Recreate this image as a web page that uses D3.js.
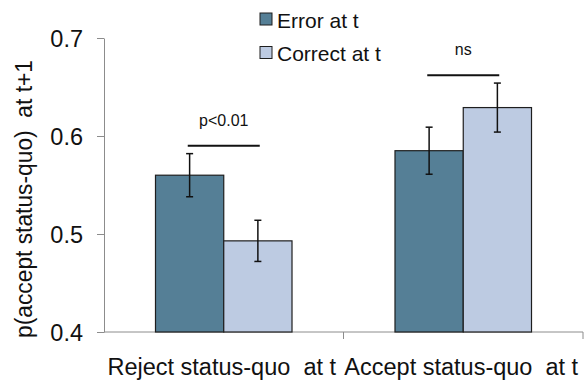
<!DOCTYPE html>
<meta charset="utf-8">
<script src="https://cdn.jsdelivr.net/npm/d3@7"></script>
<style>
body { margin: 0; background: #fff; }
text { font-family: "Liberation Sans", Arial, sans-serif; fill: #111; white-space: pre; }
.axisGray line, .axisGray path { stroke: #8c8c8c; }
</style>
<svg width="584" height="382"></svg>
<script>

// data
var categories = ["Reject status-quo  at t", "Accept status-quo  at t"];
var series = ["Error at t", "Correct at t"];
var errorMeans = [0.560, 0.585];
var errorSE = [0.022, 0.024];
var correctMeans = [0.493, 0.629];
var correctSE = [0.021, 0.025];
var yTicks = [0.4, 0.5, 0.6, 0.7];
var sigLabels = ["p<0.01", "ns"];
var sigLevels = [0.590, 0.662];

var svg = d3.select("svg");
var colors = ["#557f96", "#bdcbe2"];

var x = d3.scaleBand()
    .domain(categories)
    .range([104, 583])
    .paddingInner(0.43)
    .paddingOuter(0.215);

var sub = d3.scaleBand()
    .domain(series)
    .range([0, x.bandwidth()]);

var y = d3.scaleLinear()
    .domain([0.4, 0.7])
    .range([332, 38]);

//y axis
svg.append("g")
    .attr("class", "axisGray")
    .attr("transform", "translate(104,0)")
    .call(d3.axisLeft(y)
      .tickValues(yTicks)
      .tickSize(7)
      .tickSizeOuter(0)
      .tickPadding(14)
      .tickFormat(d3.format(".1f")))
    .call(function(g) {
      g.selectAll("text").style("font-size", "23.5px").attr("dy", "0.36em").style("fill", "#111");
    });

// x axis line + ticks between categories
svg.append("line")
    .attr("x1", x.range()[0]).attr("x2", x.range()[1])
    .attr("y1", y(0.4)).attr("y2", y(0.4))
    .style("stroke", "#8c8c8c");

svg.selectAll(".xtick")
    .data(categories)
    .enter().append("line")
    .attr("x1", function(d, i) { return x.range()[0] + x.step() * (i + 1); })
    .attr("x2", function(d, i) { return x.range()[0] + x.step() * (i + 1); })
    .attr("y1", y(0.4)).attr("y2", y(0.4) + 7)
    .style("stroke", "#8c8c8c");

svg.selectAll(".xlabel")
    .data(categories)
    .enter().append("text")
    .attr("x", function(d) { return x(d) + x.bandwidth() / 2 - 2; })
    .attr("y", 375)
    .attr("text-anchor", "middle")
    .style("font-size", "23.5px")
    .text(function(d) { return d; });

// y label
svg.append("text")
    .attr("transform", "translate(32," + 199 + ") rotate(-90)")
    .attr("text-anchor", "middle")
    .attr("textLength", 278)
    .attr("lengthAdjust", "spacingAndGlyphs")
    .style("font-size", "23px")
    .text("p(accept status-quo)  at t+1");

// bars
var rows = [];
categories.forEach(function(c, i) {
  rows.push({cat: c, s: series[0], v: errorMeans[i], se: errorSE[i], k: 0});
  rows.push({cat: c, s: series[1], v: correctMeans[i], se: correctSE[i], k: 1});
});

svg.selectAll(".bar")
    .data(rows)
    .enter().append("rect")
    .attr("x", function(d) { return x(d.cat) + sub(d.s); })
    .attr("y", function(d) { return y(d.v); })
    .attr("width", sub.bandwidth())
    .attr("height", function(d) { return y(0.4) - y(d.v); })
    .style("fill", function(d) { return colors[d.k]; })
    .style("stroke", "#1e1e1e")
    .style("stroke-width", 1.2);

// error bars
var eb = svg.selectAll(".eb")
    .data(rows)
    .enter().append("g")
    .attr("transform", function(d) { return "translate(" + (x(d.cat) + sub(d.s) + sub.bandwidth() / 2) + ",0)"; });
eb.append("line")
    .attr("y1", function(d) { return y(d.v + d.se); })
    .attr("y2", function(d) { return y(d.v - d.se); })
    .style("stroke", "#111").style("stroke-width", 1.5);
eb.append("line")
    .attr("x1", -3.5).attr("x2", 3.5)
    .attr("y1", function(d) { return y(d.v + d.se); })
    .attr("y2", function(d) { return y(d.v + d.se); })
    .style("stroke", "#111").style("stroke-width", 1.5);
eb.append("line")
    .attr("x1", -3.5).attr("x2", 3.5)
    .attr("y1", function(d) { return y(d.v - d.se); })
    .attr("y2", function(d) { return y(d.v - d.se); })
    .style("stroke", "#111").style("stroke-width", 1.5);

// significance markers
var sig = svg.selectAll(".sig")
    .data(categories)
    .enter().append("g");
sig.append("line")
    .attr("x1", function(d) { return x(d) + x.bandwidth() / 2 - 36; })
    .attr("x2", function(d) { return x(d) + x.bandwidth() / 2 + 36; })
    .attr("y1", function(d, i) { return y(sigLevels[i]); })
    .attr("y2", function(d, i) { return y(sigLevels[i]); })
    .style("stroke", "#111").style("stroke-width", 2);
sig.append("text")
    .attr("x", function(d) { return x(d) + x.bandwidth() / 2; })
    .attr("y", function(d, i) { return y(sigLevels[i]) - 20; })
    .attr("text-anchor", "middle")
    .style("font-size", "16px")
    .text(function(d, i) { return sigLabels[i]; });

// legend
var leg = svg.selectAll(".leg")
    .data(series)
    .enter().append("g")
    .attr("transform", function(d, i) { return "translate(260," + (13 + i * 33.5) + ")"; });
leg.append("rect")
    .attr("width", 12).attr("height", 12)
    .style("fill", function(d, i) { return colors[i]; })
    .style("stroke", "#1e1e1e");
leg.append("text")
    .attr("x", 17).attr("y", 14.5)
    .style("font-size", "21px")
    .text(function(d) { return d; });

</script>
